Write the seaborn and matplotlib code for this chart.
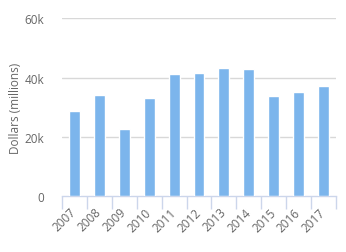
import matplotlib
matplotlib.use("Agg")
import matplotlib.pyplot as plt
import seaborn as sns
import pandas as pd
import numpy as np
from matplotlib.ticker import FixedLocator

years = ["2007", "2008", "2009", "2010", "2011", "2012", "2013", "2014", "2015", "2016", "2017"]
values = [28700, 34100, 22600, 33100, 41200, 41500, 43200, 42900, 33800, 35100, 37100]
yticks = [0, 20000, 40000, 60000]
ytick_labels = ["0", "20k", "40k", "60k"]

sns.set_style("white")
plt.rcParams['font.family'] = ['Open Sans', 'DejaVu Sans']

df = pd.DataFrame({"year": years, "value": values})

fig = plt.figure(figsize=(3.46, 2.53), dpi=100)
ax = fig.add_axes([62/346, 1 - 197/253, (336 - 62)/346, (197 - 19.3)/253])

sns.barplot(data=df, x="year", y="value", color="#7cb5ec", saturation=1, width=0.44, ax=ax, zorder=3)

ax.set_ylim(0, 60000)
ax.set_xlim(-0.5, len(years) - 0.5)
ax.set_yticks(yticks)
ax.set_yticklabels(ytick_labels)
for y in yticks[1:]:
    ax.axhline(y, color="#d8d8d8", lw=1, zorder=1)

for s in ["top", "right", "left"]:
    ax.spines[s].set_visible(False)
ax.spines["bottom"].set_color("#ccd6eb")
ax.spines["bottom"].set_linewidth(1)

ax.tick_params(axis="y", length=0, pad=13, labelsize=8.5, labelcolor="#666666")
ax.tick_params(axis="x", which="major", length=0, pad=10, labelsize=8.5, labelcolor="#666666")
ax.xaxis.set_minor_locator(FixedLocator(np.arange(-0.5, len(years), 1.0)))
ax.tick_params(axis="x", which="minor", length=9, width=1, color="#ccd6eb", direction="out", bottom=True)
for lab in ax.get_xticklabels():
    lab.set_rotation(45)
    lab.set_ha("right")
    lab.set_va("center")
    lab.set_rotation_mode("anchor")

ax.set_xlabel("")
ax.set_ylabel("Dollars (millions)", color="#666666", fontsize=8.5)
ax.yaxis.set_label_coords(-40/274, 0.5)

fig.savefig("out.png", dpi=100)
